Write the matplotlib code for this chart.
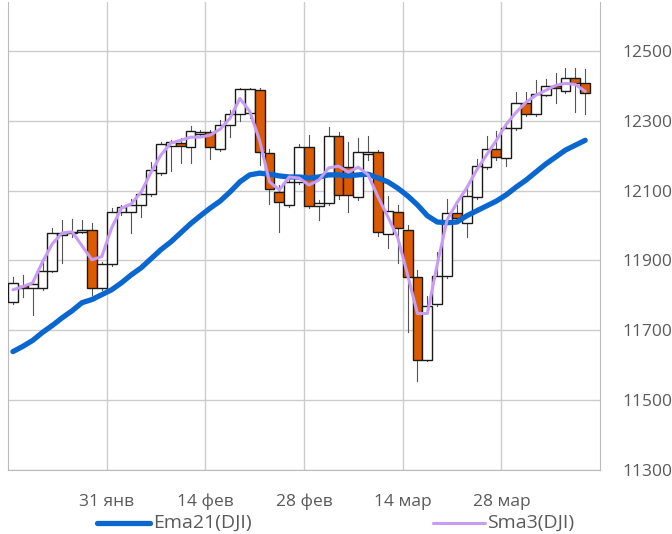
import matplotlib
matplotlib.use("Agg")
import matplotlib.pyplot as plt
from matplotlib.lines import Line2D

# DJI daily candles (60 slots, last one empty)
opens = [11782, 11828, 11822, 11822, 11871, 11973, 11979, 11982, 11988, 11822,
         11891, 12039, 12039, 12059, 12090, 12150, 12227, 12236, 12224, 12262,
         12267, 12219, 12287, 12319, 12322, 12387, 12207, 12096, 12059, 12125,
         12224, 12056, 12065, 12256, 12167, 12082, 12204, 12210, 11976, 12039,
         11988, 11853, 11614, 11776, 11856, 12036, 12008, 12082, 12167, 12219,
         12193, 12279, 12350, 12319, 12373, 12399, 12384, 12421, 12407]
closes = [11836, 11822, 11833, 11871, 11979, 11979, 11982, 11988, 11822, 11891,
          12039, 12053, 12059, 12090, 12159, 12233, 12239, 12227, 12270, 12267,
          12224, 12287, 12319, 12390, 12390, 12210, 12105, 12068, 12125, 12224,
          12056, 12065, 12256, 12087, 12087, 12210, 12210, 11982, 12042, 11993,
          11853, 11614, 11771, 11856, 12036, 12022, 12085, 12170, 12219, 12196,
          12279, 12350, 12319, 12376, 12399, 12393, 12421, 12407, 12379]
highs = [11853, 11859, 11845, 11896, 11993, 12016, 12019, 12016, 12008, 11896,
         12050, 12059, 12076, 12102, 12182, 12239, 12244, 12250, 12284, 12273,
         12273, 12302, 12330, 12393, 12393, 12393, 12219, 12116, 12130, 12233,
         12259, 12073, 12282, 12267, 12239, 12250, 12256, 12216, 12085, 12059,
         12002, 11873, 11799, 11925, 12076, 12059, 12113, 12190, 12256, 12270,
         12290, 12381, 12381, 12416, 12419, 12436, 12450, 12450, 12447]
lows = [11776, 11796, 11745, 11816, 11868, 11893, 11968, 11979, 11802, 11816,
        11885, 12030, 11979, 12025, 12085, 12145, 12156, 12179, 12179, 12259,
        12190, 12213, 12253, 12299, 12307, 12173, 12062, 11982, 12053, 12119,
        12050, 12016, 12059, 12076, 12039, 12073, 12187, 11970, 11936, 11893,
        11696, 11554, 11611, 11771, 11851, 12010, 11968, 12076, 12162, 12187,
        12170, 12273, 12313, 12313, 12370, 12350, 12379, 12324, 12319]

ema21 = [11639, 11654, 11671, 11694, 11714, 11736, 11756, 11779, 11788, 11802,
         11816, 11836, 11859, 11879, 11905, 11931, 11953, 11979, 12005, 12028,
         12050, 12070, 12096, 12125, 12145, 12150, 12147, 12142, 12139, 12139,
         12136, 12139, 12145, 12145, 12142, 12145, 12147, 12136, 12125, 12107,
         12085, 12059, 12028, 12010, 12008, 12010, 12028, 12042, 12056, 12070,
         12088, 12110, 12130, 12153, 12176, 12196, 12216, 12230, 12244]
sma3 = [11816, 11825, 11836, 11896, 11948, 11979, 11982, 11942, 11902, 11911,
        11993, 12050, 12062, 12096, 12153, 12202, 12236, 12244, 12253, 12253,
        12259, 12276, 12307, 12364, 12327, 12244, 12125, 12102, 12139, 12136,
        12116, 12130, 12165, 12170, 12153, 12167, 12145, 12082, 12025, 11965,
        11859, 11748, 11748, 11888, 12016, 12065, 12108, 12159, 12202, 12244,
        12290, 12324, 12353, 12373, 12387, 12401, 12407, 12404, 12384]

date_labels = ["31 янв", "14 фев", "28 фев", "14 мар", "28 мар"]
price_ticks = [11300, 11500, 11700, 11900, 12100, 12300, 12500]

plt.rcParams["font.family"] = ["Open Sans", "DejaVu Sans"]
TXT = "#5a5a5a"
UP, DOWN = "white", "#dc5a00"

fig = plt.figure(figsize=(6.72, 5.34), dpi=100)
ax = fig.add_axes([8 / 672, 64 / 534, 592 / 672, 468 / 534])

xs = [i + 0.5 for i in range(len(opens))]
for x, o, c, h, l in zip(xs, opens, closes, highs, lows):
    ax.plot([x, x], [l, h], color="#555555", lw=0.8, zorder=2)
    ax.bar(x, c - o, bottom=o, width=1.0, color=UP if c >= o else DOWN,
           edgecolor="#1a1a1a", linewidth=1.0, zorder=3)

ax.plot(xs, ema21, color="#0a67cf", lw=3.8, solid_capstyle="round", zorder=4)
ax.plot(xs, sma3, color="#c79cf2", lw=2.2, solid_capstyle="round", zorder=5)

ax.set_xlim(0, 60)
ax.set_ylim(11300, 12640)
ax.set_xticks([10, 20, 30, 40, 50])
ax.set_xticklabels(date_labels)
ax.set_yticks(price_ticks)
ax.yaxis.tick_right()
ax.tick_params(axis="both", which="both", length=0, labelsize=12.5, colors=TXT)
ax.tick_params(axis="x", pad=17)
ax.tick_params(axis="y", pad=16)
ax.grid(True, color="#cccccc", lw=1.0, zorder=0)
ax.set_axisbelow(True)
for side in ["left", "right", "bottom"]:
    ax.spines[side].set_color("#bbbbbb")
ax.spines["top"].set_visible(False)

# legend row under the axis
ly = 11 / 534
fig.add_artist(Line2D([97 / 672, 150 / 672], [ly, ly], color="#0a67cf", lw=3.8,
                      solid_capstyle="round"))
fig.text(153 / 672, ly, "Ema21(DJI)", color=TXT, fontsize=14, va="center")
fig.add_artist(Line2D([433 / 672, 485 / 672], [ly, ly], color="#c79cf2", lw=2.2,
                      solid_capstyle="round"))
fig.text(487 / 672, ly, "Sma3(DJI)", color=TXT, fontsize=14, va="center")

fig.savefig("out.png", dpi=100, facecolor="white")
